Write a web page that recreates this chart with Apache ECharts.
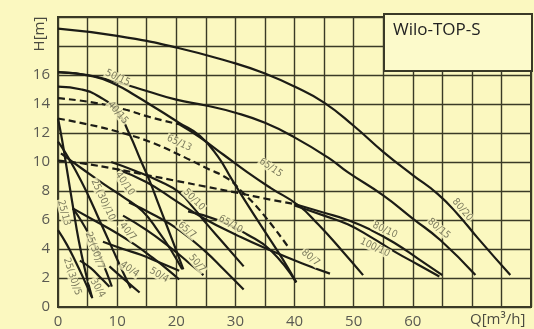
<!DOCTYPE html>
<html><head><meta charset="utf-8">
<script src="https://cdn.jsdelivr.net/npm/echarts@6/dist/echarts.min.js"></script>
<style>html,body{margin:0;padding:0;background:#fbf8c0}#c{width:534px;height:329px}</style>
</head><body><div id="c"></div>
<script>
// tick labels
const xTickLabels = [0, 10, 20, 30, 40, 50, 60];
const yTickLabels = [0, 2, 4, 6, 8, 10, 12, 14, 16];

// curves: [Q m3/h, H m]
const c80_20 = [[0,19.2],[10,18.7],[20,17.9],[30,16.8],[35,16.1],[40,15.2],[45,14.1],[50,12.5],[55,10.7],[60,9.1],[64.2,7.8],[67.6,6.4],[70.9,4.8],[76.5,2.2]];
const c80_15 = [[0,16.2],[5,16.0],[10,15.5],[15,14.9],[20,14.3],[25,13.9],[30,13.4],[35,12.7],[40,11.7],[45.7,10.3],[49,9.3],[55,7.7],[60,6.1],[64.7,4.6],[70.6,2.2]];
const c50_15 = [[0,16.2],[6,15.9],[10,15.3],[13,14.6],[17,13.6],[20.5,12.7],[24,11.8],[27,10.4],[29.4,8.8],[32,7.1],[35,5.2],[38,3.3],[40.3,1.7]];
const c40_15 = [[0,15.2],[4,15.0],[7,14.5],[10,13.5],[12,12.0],[14,10.1],[15.5,8.7],[17,7.1],[18.5,5.5],[20,3.9],[21.2,2.6]];
const c65_15a = [[0,14.4],[6,14.1],[11.5,13.6],[15.5,13.1],[20.5,12.6]];
const c65_15 = [[20.5,12.6],[24,11.7],[28,10.5],[32,9.3],[36,8.2],[40.7,7.0],[44,5.7],[48,3.9],[51.6,2.2]];
const c65_13 = [[0,13.0],[5,12.6],[10,12.1],[15.5,11.4],[20.5,10.5],[25,9.6],[28.9,8.8],[31,8.0],[34.5,6.5],[39,4.1]];
const c80_10a = [[0,10.1],[4.2,9.9],[10,9.5],[15,9.1],[20,8.7],[25,8.3],[30,7.9],[36,7.4],[40,7.1]];
const c80_10 = [[40,7.1],[45,6.5],[49,6.0],[53,5.3],[57,4.4],[61,3.3],[65,2.2]];
const c100_10 = [[40,7.0],[45,6.3],[49,5.7],[53,4.8],[57,3.8],[61,2.9],[64.5,2.1]];
const c25_13 = [[0,13.0],[0.7,11.5],[1.5,9.5],[2.5,7.0],[3.5,4.6],[4.6,2.5],[5.8,0.6]];
const c25_10 = [[0,11.4],[1,10.8],[3,9.4],[5,7.8],[7,6.0],[9,4.2],[11,2.4],[12.3,1.3]];
const c40_10 = [[0.5,10.6],[4.2,9.5],[8,8.4],[11,7.6],[14.3,6.6],[17,5.2],[19,4.0],[21,2.6]];
const c40_7 = [[2.5,6.8],[6,6.0],[9.9,5.1],[13,4.3],[16,3.4],[18.5,2.6],[20.5,1.9]];
const c25_7 = [[2.5,6.8],[4,5.9],[5.5,4.8],[7,3.6],[8.2,2.4],[9.1,1.4]];
const c25_5 = [[0,5.3],[1.5,4.3],[3,3.1],[4.5,1.8],[5.7,0.7]];
const c30_4 = [[3.7,3.2],[5.5,2.7],[7,2.1],[8.7,1.4]];
const c40_4 = [[8.7,2.8],[11.2,1.9],[13.8,1.0]];
const c50_4 = [[7.6,4.5],[11,4.0],[14,3.6],[17,3.1],[20.5,2.5]];
const c50_10 = [[9,10.0],[13,9.4],[17,8.7],[20.5,7.9],[23,6.8],[25,5.8],[28,4.4],[31.4,2.8]];
const c65_10 = [[10,9.5],[15,8.6],[20,7.3],[24.7,6.1],[30,5.0],[36,3.9],[42,2.9],[46,2.3]];
const c65_7 = [[12,7.2],[16,6.4],[20.5,5.3],[25,3.8],[28,2.6],[31.4,1.2]];
const c50_7 = [[11,6.3],[15,5.3],[19,4.1],[22,3.1],[24.6,2.2]];
const c80_7 = [[22,6.6],[27,6.0],[32,5.0],[36,3.9],[40.3,1.7]];

const curves = [
  ['80/20', c80_20, false], ['80/15', c80_15, false], ['50/15', c50_15, false],
  ['40/15', c40_15, false], ['65/15 ', c65_15a, true], ['65/15', c65_15, false],
  ['65/13', c65_13, true], ['80/10 ', c80_10a, true], ['80/10', c80_10, false],
  ['100/10', c100_10, false], ['25/13', c25_13, false], ['25(30)/10', c25_10, false],
  ['40/10', c40_10, false], ['40/7', c40_7, false], ['25(30)/7', c25_7, false],
  ['25(30)/5', c25_5, false], ['30/4', c30_4, false], ['40/4', c40_4, false],
  ['50/4', c50_4, false], ['50/10', c50_10, false], ['65/10', c65_10, false],
  ['65/7', c65_7, false], ['50/7', c50_7, false], ['80/7', c80_7, false]
];

// curve label anchors: text, Q, H, rotation
const labelText = ['50/15','40/15','65/13','65/15','40/10','25(30)/10','25/13','40/7','50/10','65/7','65/10','50/7','80/7','80/10','100/10','80/15','80/20','25(30)/7','30/4','25(30)/5','40/4','50/4'];
const labelQ = [10.1,10.1,20.5,36,11.3,7.6,1.0,11.8,23,21.8,29.2,23.5,42.7,55.3,53.6,64.4,68.4,6.2,6.7,2.4,12.1,17.1];
const labelH = [15.8,13.4,11.3,9.6,8.5,7.4,6.5,5.2,7.4,5.3,5.7,3.0,3.4,5.3,4.1,5.4,6.7,3.9,1.3,2.1,2.6,2.2];
const labelRot = [-25,-50,-25,-35,-55,-65,-75,-50,-45,-40,-30,-50,-40,-25,-25,-40,-50,-70,-60,-72,-35,-30];

const BG = '#fbf8c0';
const INK = '#1c1c16';
const GRIDC = '#3a3a26';

const series = curves.map(([name, data, dashed]) => ({
  type: 'line', name, data, smooth: 0.5, symbol: 'none', z: 3,
  lineStyle: { color: INK, width: 2.2, type: dashed ? [7, 4] : 'solid' }
}));
series.push({
  type: 'scatter', symbolSize: 0, z: 5, silent: true,
  data: labelText.map((t, i) => ({ value: [labelQ[i], labelH[i]], name: t,
    label: { rotate: labelRot[i] } })),
  label: { show: true, position: 'inside', formatter: p => p.name,
    color: '#5d5c45', fontSize: 10, fontFamily: 'DejaVu Sans Condensed, DejaVu Sans',
    backgroundColor: BG, padding: [0, 1] }
});

const chart = echarts.init(document.getElementById('c'), null, { renderer: 'canvas' });
chart.setOption({
  backgroundColor: BG,
  animation: false,
  grid: { left: 58, right: 0, top: 17, bottom: 22, show: true, borderColor: GRIDC, borderWidth: 2, backgroundColor: 'transparent' },
  xAxis: {
    type: 'value', min: 0, max: 80, interval: 5,
    axisLine: { show: true, lineStyle: { color: GRIDC, width: 2 } },
    axisTick: { show: false },
    splitLine: { show: true, lineStyle: { color: GRIDC, width: 1.4 } },
    axisLabel: { color: '#5a5a52', fontSize: 15, fontFamily: 'Open Sans', margin: 7,
      formatter: v => xTickLabels.includes(v) ? String(v) : '' }
  },
  yAxis: {
    type: 'value', min: 0, max: 20, interval: 2,
    axisLine: { show: true, lineStyle: { color: GRIDC, width: 2 } },
    axisTick: { show: false },
    splitLine: { show: true, lineStyle: { color: GRIDC, width: 1.4 } },
    axisLabel: { color: '#5a5a52', fontSize: 15, fontFamily: 'Open Sans', margin: 8,
      formatter: v => yTickLabels.includes(v) ? String(v) : '' }
  },
  graphic: [
    { type: 'rect', shape: { x: 384, y: 14, width: 148, height: 57 }, z: 10,
      style: { fill: '#fcfacb', stroke: '#3a3a28', lineWidth: 2 } },
    { type: 'text', x: 393, y: 30, z: 11,
      style: { text: 'Wilo-TOP-S', fill: '#222', fontSize: 17, fontFamily: 'Open Sans', verticalAlign: 'middle' } },
    { type: 'text', x: 40, y: 34, rotation: Math.PI / 2, z: 11,
      style: { text: 'H[m]', fill: '#4a4a40', fontSize: 15, fontFamily: 'Open Sans', align: 'center', verticalAlign: 'middle' } },
    { type: 'text', x: 470, y: 320, z: 11,
      style: { text: 'Q[m³/h]', fill: '#4a4a40', fontSize: 15, fontFamily: 'Open Sans', verticalAlign: 'middle' } }
  ],
  series
});
</script></body></html>
